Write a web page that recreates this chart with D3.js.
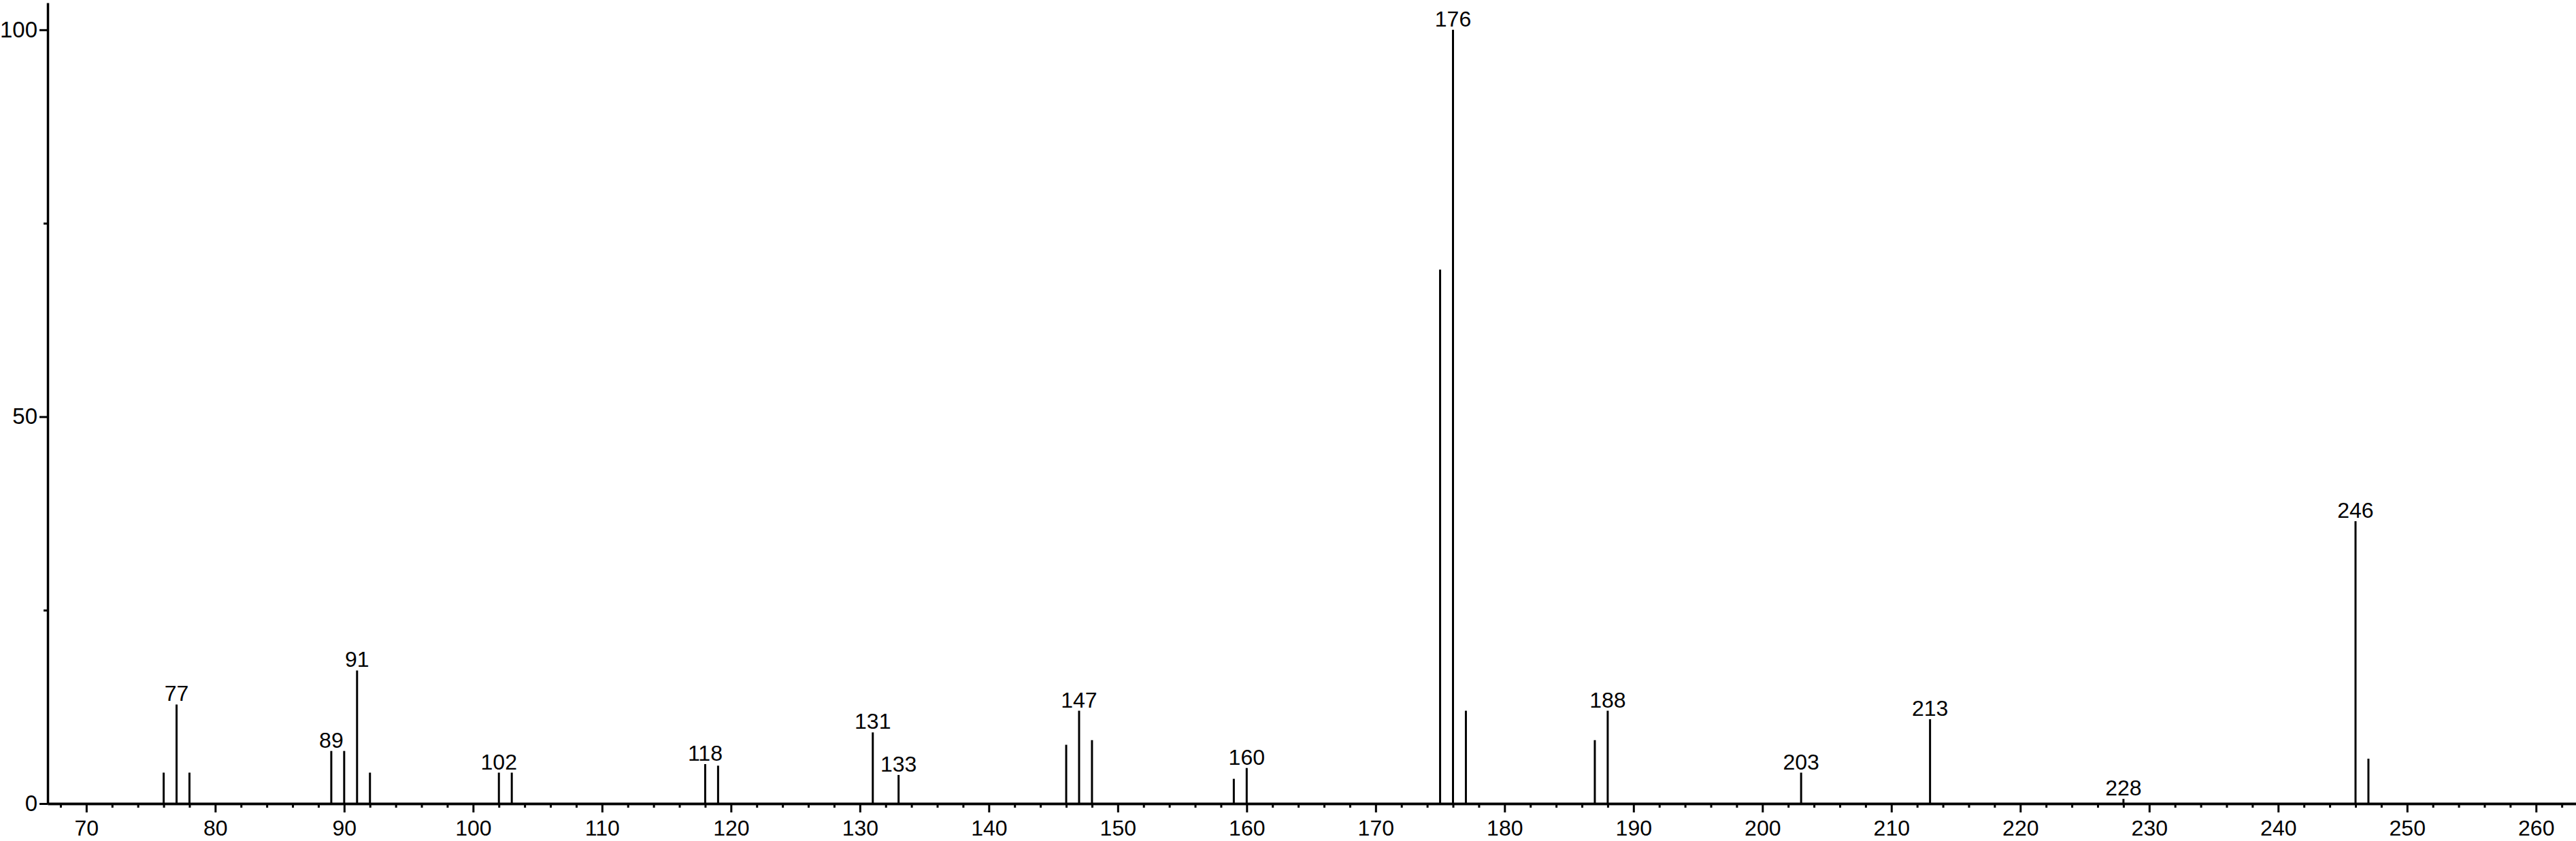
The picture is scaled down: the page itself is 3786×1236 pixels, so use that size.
<!DOCTYPE html>
<html lang="en">
<head>
<meta charset="utf-8">
<title>Mass spectrum</title>
<style>
  body { margin: 0; background: #fff; }
  svg text { font-family: "Liberation Sans", Arial, sans-serif; fill: #000; }
</style>
</head>
<body>
<svg id="spectrum" width="3786" height="1236"></svg>

<script src="https://d3js.org/d3.v7.min.js"></script>
<script>
  // peak positions (m/z) and relative intensities
  var mz = [76, 77, 78, 89, 90, 91, 92, 102, 103, 118, 119, 131, 133,
            146, 147, 148, 159, 160, 175, 176, 177, 187, 188, 203, 213, 228, 246, 247];
  var intensity = [4.0, 12.8, 4.0, 6.8, 6.8, 17.2, 4.0, 4.0, 4.0, 5.1, 4.9, 9.2, 3.7,
                   7.6, 12.0, 8.2, 3.2, 4.6, 69.0, 100, 12.0, 8.2, 12.0, 4.0, 10.9, 0.6, 36.5, 5.8];
  // peaks that get their m/z written above them
  var labelled = [77, 89, 91, 102, 118, 131, 133, 147, 160, 176, 188, 203, 213, 228, 246];

  var xMajor = [70, 80, 90, 100, 110, 120, 130, 140, 150, 160, 170, 180, 190, 200, 210, 220, 230, 240, 250, 260];
  var yMajor = [0, 50, 100];
  var yMinor = [25, 75];

  var peaks = mz.map((m, i) => ({mz: m, val: intensity[i]}));

  var svg = d3.select("#spectrum");
  var W = 3786, H = 1236;

  var x = d3.scaleLinear().domain([67, 263.1]).range([70, W]);
  var y = d3.scaleLinear().domain([0, 103.5]).range([1181, 4]);

  // minor x ticks every 2
  var xMinor = d3.range(68, 263, 2).filter(v => v % 10 != 0);

  var gx = svg.append("g").attr("transform", "translate(0," + y(0) + ")");
  gx.call(d3.axisBottom(x).tickValues(xMinor).tickSize(6).tickSizeOuter(0).tickFormat(""));
  gx.call(g => g.selectAll(".tick line").attr("stroke-width", 3));
  var gx2 = svg.append("g").attr("transform", "translate(0," + y(0) + ")");
  gx2.call(d3.axisBottom(x).tickValues(xMajor).tickSize(13).tickPadding(11).tickSizeOuter(0));
  gx2.selectAll(".tick line").attr("stroke-width", 3);
  gx2.selectAll(".tick text").attr("font-size", 32).attr("fill", "#000");
  svg.selectAll(".domain").attr("stroke-width", 3.5);

  var gy = svg.append("g").attr("transform", "translate(" + x(67) + ",0)");
  gy.call(d3.axisLeft(y).tickValues(yMajor).tickSize(12).tickPadding(3).tickSizeOuter(0));
  gy.selectAll(".tick line").attr("stroke-width", 3);
  gy.selectAll(".tick text").attr("font-size", 33).attr("fill", "#000");
  gy.select(".domain").attr("stroke-width", 3.5);

  var gyMinor = svg.append("g").attr("transform", "translate(" + x(67) + ",0)");
  gyMinor.call(d3.axisLeft(y).tickValues(yMinor).tickSize(6).tickFormat(""));
  gyMinor.select(".domain").remove();
  gyMinor.selectAll(".tick line").attr("stroke-width", 3);

  svg.append("g")
    .selectAll("line")
    .data(peaks)
    .join("line")
      .attr("x1", d => x(d.mz))
      .attr("x2", d => x(d.mz))
      .attr("y1", y(0))
      .attr("y2", d => y(d.val))
      .attr("stroke", "#000")
      .attr("stroke-width", 3);

  svg.append("g")
    .selectAll("text")
    .data(peaks.filter(d => labelled.includes(d.mz)))
    .join("text")
      .text(d => d.mz)
      .attr("x", d => x(d.mz))
      .attr("y", d => y(d.val) - 5)
      .attr("text-anchor", "middle")
      .attr("font-size", 32);
</script>
</body>
</html>
